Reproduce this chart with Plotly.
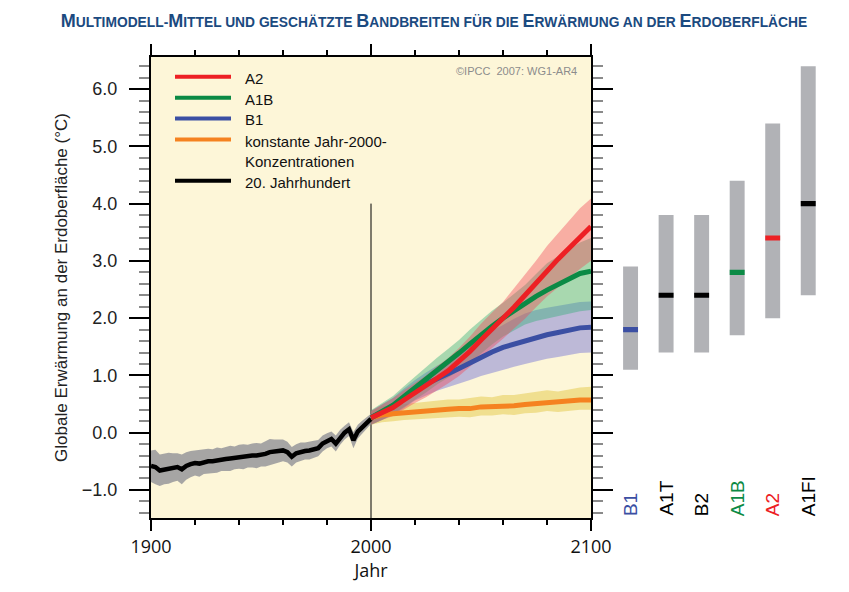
import plotly.graph_objects as go

# ---------------- data ----------------
years_20c = list(range(1900, 2001, 2))
mean_20c = [-0.58, -0.60, -0.66, -0.64, -0.62, -0.61, -0.60, -0.64, -0.58, -0.55,
            -0.53, -0.54, -0.51, -0.50, -0.50, -0.48, -0.47, -0.46, -0.45, -0.44,
            -0.42, -0.42, -0.41, -0.40, -0.40, -0.39, -0.37, -0.34, -0.33, -0.32,
            -0.31, -0.34, -0.42, -0.36, -0.33, -0.32, -0.31, -0.29, -0.27, -0.19,
            -0.14, -0.11, -0.19, -0.08, 0.00, 0.06, -0.13, 0.02, 0.10, 0.17, 0.24]
hi_20c = [-0.31, -0.30, -0.38, -0.37, -0.35, -0.36, -0.36, -0.38, -0.34, -0.32,
          -0.31, -0.31, -0.30, -0.28, -0.29, -0.26, -0.27, -0.25, -0.23, -0.24,
          -0.21, -0.20, -0.21, -0.19, -0.18, -0.19, -0.15, -0.11, -0.12, -0.12,
          -0.12, -0.16, -0.25, -0.20, -0.17, -0.17, -0.15, -0.14, -0.13, -0.05,
          -0.01, 0.02, -0.05, 0.05, 0.12, 0.18, 0.01, 0.14, 0.21, 0.27, 0.33]
lo_20c = [-0.86, -0.90, -0.93, -0.90, -0.89, -0.86, -0.84, -0.90, -0.82, -0.78,
          -0.75, -0.77, -0.72, -0.72, -0.71, -0.70, -0.67, -0.67, -0.67, -0.64,
          -0.63, -0.64, -0.61, -0.61, -0.62, -0.59, -0.59, -0.57, -0.54, -0.52,
          -0.50, -0.52, -0.59, -0.52, -0.49, -0.47, -0.47, -0.44, -0.41, -0.33,
          -0.27, -0.24, -0.33, -0.21, -0.12, -0.06, -0.27, -0.10, -0.01, 0.07, 0.15]

years_scen = list(range(2000, 2101, 5))
a2_mean = [0.26, 0.35, 0.44, 0.57, 0.69, 0.81, 0.95, 1.08, 1.24, 1.42, 1.62,
           1.80, 1.98, 2.19, 2.40, 2.62, 2.84, 3.03, 3.22, 3.42, 3.60]
a2_hi = [0.38, 0.49, 0.60, 0.74, 0.87, 1.00, 1.16, 1.30, 1.48, 1.68, 1.90,
         2.10, 2.28, 2.52, 2.75, 3.00, 3.26, 3.48, 3.70, 3.92, 4.09]
a2_lo = [0.14, 0.22, 0.29, 0.41, 0.52, 0.62, 0.74, 0.86, 0.99, 1.15, 1.32,
         1.48, 1.64, 1.82, 1.99, 2.19, 2.38, 2.54, 2.70, 2.86, 3.00]

a1b_mean = [0.26, 0.37, 0.48, 0.63, 0.78, 0.92, 1.08, 1.23, 1.39, 1.55, 1.71,
            1.86, 2.00, 2.13, 2.26, 2.38, 2.49, 2.59, 2.68, 2.78, 2.82]
a1b_hi = [0.39, 0.51, 0.64, 0.81, 0.98, 1.14, 1.31, 1.46, 1.62, 1.80, 1.97,
          2.13, 2.27, 2.43, 2.58, 2.77, 2.96, 3.08, 3.20, 3.32, 3.40]
a1b_lo = [0.14, 0.22, 0.32, 0.44, 0.57, 0.70, 0.84, 0.96, 1.08, 1.22, 1.38,
          1.54, 1.68, 1.79, 1.89, 1.95, 2.00, 2.04, 2.08, 2.12, 2.14]

b1_mean = [0.26, 0.36, 0.46, 0.60, 0.74, 0.85, 0.95, 1.03, 1.12, 1.22, 1.32,
           1.41, 1.49, 1.55, 1.60, 1.66, 1.71, 1.75, 1.79, 1.83, 1.84]
b1_hi = [0.38, 0.50, 0.61, 0.77, 0.92, 1.05, 1.17, 1.27, 1.38, 1.50, 1.66,
         1.78, 1.88, 1.99, 2.08, 2.14, 2.18, 2.21, 2.24, 2.28, 2.29]
b1_lo = [0.14, 0.22, 0.31, 0.43, 0.56, 0.65, 0.73, 0.80, 0.86, 0.92, 0.99,
         1.05, 1.10, 1.15, 1.20, 1.25, 1.29, 1.32, 1.35, 1.39, 1.40]

c2000_mean = [0.26, 0.31, 0.33, 0.35, 0.37, 0.38, 0.39, 0.41, 0.42, 0.42, 0.45,
              0.45, 0.47, 0.47, 0.49, 0.51, 0.53, 0.53, 0.55, 0.57, 0.57]
c2000_hi = [0.38, 0.46, 0.48, 0.50, 0.52, 0.53, 0.55, 0.58, 0.58, 0.60, 0.63,
            0.62, 0.66, 0.66, 0.69, 0.71, 0.74, 0.72, 0.76, 0.79, 0.80]
c2000_lo = [0.14, 0.18, 0.20, 0.22, 0.24, 0.25, 0.26, 0.27, 0.28, 0.27, 0.30,
            0.30, 0.32, 0.31, 0.34, 0.35, 0.38, 0.36, 0.38, 0.40, 0.40]

bar_scen = ["B1", "A1T", "B2", "A1B", "A2", "A1FI"]
bar_low = [1.1, 1.4, 1.4, 1.7, 2.0, 2.4]
bar_high = [2.9, 3.8, 3.8, 4.4, 5.4, 6.4]
bar_best = [1.8, 2.4, 2.4, 2.8, 3.4, 4.0]

y_ticks = [-1, 0, 1, 2, 3, 4, 5, 6]
x_ticks = [1900, 2000, 2100]

# ---------------- style ----------------
C_RED = "#ed2024"
C_GREEN = "#0b8a45"
C_BLUE = "#3b4fa3"
C_ORANGE = "#f58220"
C_BLACK = "#000000"
bar_colors = [C_BLUE, C_BLACK, C_BLACK, C_GREEN, C_RED, C_BLACK]

W, H = 849, 592
L, R, T, B = 151, 826, 57, 518
def px(x):
    return (x - L) / (R - L)
def py(y):
    return (B - y) / (B - T)

XMAIN_END = (591 - L) / (R - L)
X2_START = (612.8 - L) / (R - L)

fig = go.Figure()

def band(x, lo, hi, color, name):
    fig.add_trace(go.Scatter(x=list(x) + list(x)[::-1], y=list(hi) + list(lo)[::-1],
                             fill="toself", fillcolor=color, line=dict(width=0),
                             mode="lines", hoverinfo="skip", showlegend=False, name=name))

band(years_20c, lo_20c, hi_20c, "rgba(150,150,155,0.85)", "20c band")
band(years_scen, c2000_lo, c2000_hi, "rgba(228,200,70,0.50)", "const band")
band(years_scen, b1_lo, b1_hi, "rgba(110,110,215,0.45)", "B1 band")
band(years_scen, a1b_lo, a1b_hi, "rgba(50,175,120,0.42)", "A1B band")
band(years_scen, a2_lo, a2_hi, "rgba(240,75,90,0.42)", "A2 band")

def line(x, y, color, name, w=5):
    fig.add_trace(go.Scatter(x=x, y=y, mode="lines", line=dict(color=color, width=w),
                             name=name, showlegend=False))

line(years_20c, mean_20c, C_BLACK, "20. Jahrhundert", 4.5)
line(years_scen, c2000_mean, C_ORANGE, "konstante Jahr-2000-Konzentrationen")
line(years_scen, b1_mean, C_BLUE, "B1")
line(years_scen, a1b_mean, C_GREEN, "A1B")
line(years_scen, a2_mean, C_RED, "A2")

# right panel bars
fig.add_trace(go.Bar(x=bar_scen, y=[h - l for h, l in zip(bar_high, bar_low)], base=bar_low,
                     xaxis="x2", yaxis="y", width=0.42, marker=dict(color="#b1b2b6", line=dict(width=0)),
                     showlegend=False, hoverinfo="skip"))
fig.add_trace(go.Bar(x=bar_scen, y=[0.09] * len(bar_best), base=[b - 0.045 for b in bar_best],
                     xaxis="x2", yaxis="y", width=0.42, marker=dict(color=bar_colors, line=dict(width=0)),
                     showlegend=False, hoverinfo="skip"))

annotations = []
for s, c in zip(bar_scen, bar_colors):
    annotations.append(dict(x=s, xref="x2", y=-1.49, yref="y", text=s, textangle=-90,
                            showarrow=False, xanchor="center", yanchor="bottom",
                            font=dict(family="Arial", size=19, color=c)))

# manual legend
legend_items = [("A2", C_RED, 76.7), ("A1B", C_GREEN, 97.7), ("B1", C_BLUE, 118.5),
                ("konstante Jahr-2000-<br>Konzentrationen", C_ORANGE, 139.5),
                ("20. Jahrhundert", C_BLACK, 180.7)]
shapes = []
# cream background only behind main panel
shapes.append(dict(type="rect", xref="paper", yref="paper", x0=0, x1=XMAIN_END, y0=0, y1=1,
                   fillcolor="#fdf6d8", line=dict(width=0), layer="below"))
for txt, col, yy in legend_items:
    shapes.append(dict(type="line", xref="paper", yref="paper", x0=px(175), x1=px(231),
                       y0=py(yy), y1=py(yy), line=dict(color=col, width=4)))
    annotations.append(dict(x=px(243), y=py(yy - 9), xref="paper", yref="paper", text=txt,
                            showarrow=False, xanchor="left", yanchor="top", align="left",
                            font=dict(family="Arial", size=15, color="#111")))

annotations.append(dict(x=px(579), y=py(71), xref="paper", yref="paper",
                        text="©IPCC  2007: WG1-AR4", showarrow=False, xanchor="right",
                        yanchor="middle", font=dict(family="Arial", size=11, color="#8c8c8c")))

# vertical line at 2000
shapes.append(dict(type="line", xref="x", yref="y", x0=2000, x1=2000, y0=-1.49, y1=4.0,
                   line=dict(color="black", width=1), layer="below"))
# axis extension stubs
for xx in (0, XMAIN_END):
    shapes.append(dict(type="line", xref="paper", yref="paper", x0=xx, x1=xx,
                       y0=1, y1=py(46), line=dict(color="black", width=2)))

def small_caps(s, big=18, small=13.8):
    out = []
    for ch in s:
        if ch.isupper():
            out.append(f"<span style='font-size:{big}px'>{ch}</span>")
        else:
            out.append(ch.upper())
    return "".join(out)

title_text = small_caps("Multimodell-Mittel und geschätzte Bandbreiten für die Erwärmung an der Erdoberfläche")

fig.update_layout(
    width=W, height=H,
    margin=dict(l=L, r=W - R, t=T, b=H - B, autoexpand=False),
    paper_bgcolor="white",
    plot_bgcolor="white",
    title=dict(text="<b>" + title_text + "</b>", x=434 / W, y=1 - 22 / H,
               xanchor="center", yanchor="middle", xref="container", yref="container",
               font=dict(family="Arial", size=13.8, color="#1b4a80")),
    xaxis=dict(domain=[0, XMAIN_END], range=[1900, 2100], tickvals=x_ticks,
               ticks="outside", ticklen=11, tickwidth=2, tickcolor="black",
               minor=dict(dtick=20, ticklen=5, tickwidth=1.5, tickcolor="black", ticks="outside"),
               showline=True, linewidth=2, linecolor="black", mirror="ticks",
               showgrid=False, zeroline=False, automargin=False,
               tickfont=dict(family="Open Sans", size=18, color="#111"),
               title=dict(text="Jahr", font=dict(family="Open Sans", size=18, color="#111"), standoff=6)),
    yaxis=dict(range=[-1.49, 6.56], tickvals=y_ticks, tickformat=".1f",
               ticks="outside", ticklen=20, tickwidth=2, tickcolor="black",
               minor=dict(dtick=0.2, ticklen=10, tickwidth=1.5, tickcolor="#8a8a8a", ticks="outside"),
               showline=True, linewidth=2, linecolor="black", mirror="ticks",
               showgrid=False, zeroline=False, ticklabelstandoff=8, automargin=False,
               tickfont=dict(family="Arial", size=18, color="#222"),
               title=dict(text="Globale Erwärmung an der Erdoberfläche (°C)",
                          font=dict(family="Arial", size=17, color="#222"), standoff=10)),
    xaxis2=dict(domain=[X2_START, 1], anchor="y", type="category", categoryorder="array",
                categoryarray=bar_scen, showticklabels=False, ticks="", showline=False,
                showgrid=False, zeroline=False),
    barmode="overlay",
    shapes=shapes,
    annotations=annotations,
    showlegend=False,
)

fig.write_html("out.html", config={"displayModeBar": False},
               post_script="document.body.style.margin='0px';")
